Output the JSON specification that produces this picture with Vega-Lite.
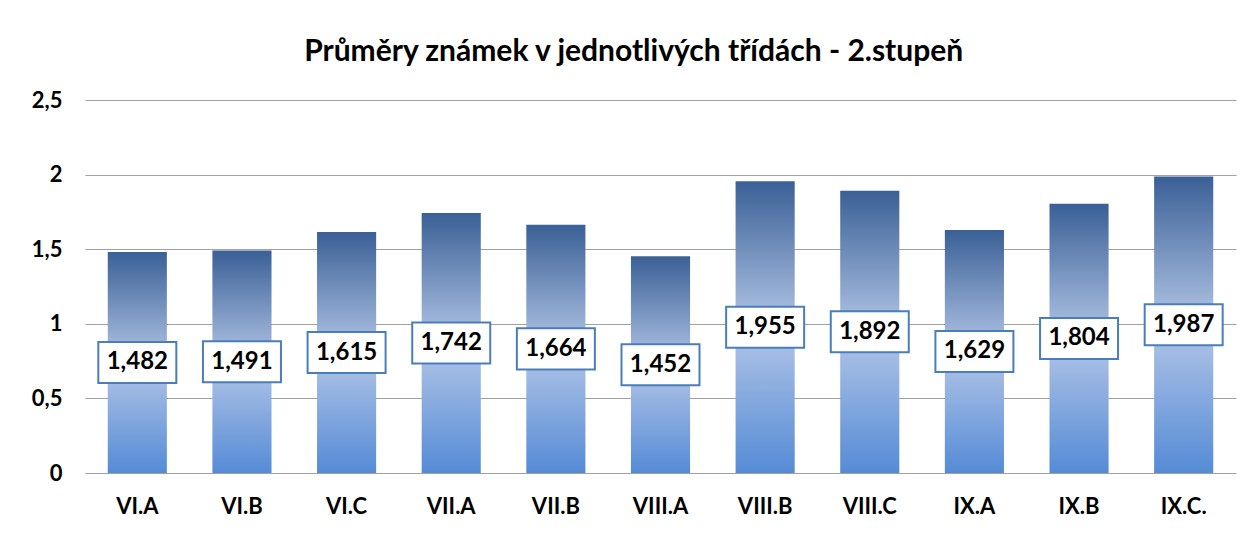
{
  "$schema": "https://vega.github.io/schema/vega-lite/v6.json",
  "width": 1151,
  "height": 373,
  "autosize": "none",
  "padding": {"left": 85, "top": 100, "right": 18, "bottom": 60},
  "background": "white",
  "config": {
    "locale": {"number": {"decimal": ",", "thousands": " ", "grouping": [3], "currency": ["", " Kč"]}},
    "view": {"stroke": null},
    "font": "Lato"
  },
  "title": {
    "text": "Průměry známek v jednotlivých třídách - 2.stupeň",
    "font": "Lato",
    "fontSize": 30,
    "fontWeight": "bold",
    "color": "black",
    "anchor": "middle",
    "frame": "bounds",
    "offset": 22
  },
  "data": {
    "values": [
      {"cls": "VI.A", "v": 1.482},
      {"cls": "VI.B", "v": 1.491},
      {"cls": "VI.C", "v": 1.615},
      {"cls": "VII.A", "v": 1.742},
      {"cls": "VII.B", "v": 1.664},
      {"cls": "VIII.A", "v": 1.452},
      {"cls": "VIII.B", "v": 1.955},
      {"cls": "VIII.C", "v": 1.892},
      {"cls": "IX.A", "v": 1.629},
      {"cls": "IX.B", "v": 1.804},
      {"cls": "IX.C.", "v": 1.987}
    ]
  },
  "encoding": {
    "x": {
      "field": "cls",
      "type": "nominal",
      "sort": null,
      "scale": {"paddingInner": 0.435, "paddingOuter": 0.2175},
      "axis": {
        "title": null,
        "labelAngle": 0,
        "labelFont": "Lato",
        "labelFontSize": 22,
        "labelFontWeight": "bold",
        "labelColor": "black",
        "labelPadding": 23,
        "ticks": false,
        "domain": false,
        "grid": false
      }
    }
  },
  "layer": [
    {
      "mark": {
        "type": "bar",
        "color": {
          "gradient": "linear",
          "x1": 0, "y1": 0, "x2": 0, "y2": 1,
          "stops": [
            {"offset": 0, "color": "#3A6096"},
            {"offset": 0.5, "color": "#B3C6E7"},
            {"offset": 1, "color": "#558BD6"}
          ]
        }
      },
      "encoding": {
        "y": {
          "field": "v",
          "type": "quantitative",
          "scale": {"domain": [0, 2.5], "nice": false},
          "axis": {
            "title": null,
            "values": [0, 0.5, 1, 1.5, 2, 2.5],
            "format": ".1~f",
            "labelFont": "Lato",
            "labelFontSize": 22,
            "labelFontWeight": "bold",
            "labelColor": "black",
            "labelPadding": 23,
            "ticks": false,
            "domain": false,
            "grid": true,
            "gridColor": "#A0A0A0",
            "gridWidth": 1
          }
        }
      }
    },
    {
      "mark": {
        "type": "point",
        "shape": "M-1,-0.526L1,-0.526L1,0.526L-1,0.526Z",
        "size": 6084,
        "filled": true,
        "fill": "white",
        "stroke": "#4A7EBB",
        "strokeWidth": 2,
        "opacity": 1,
        "fillOpacity": 1,
        "strokeOpacity": 1
      },
      "encoding": {
        "y": {"field": "v", "type": "quantitative", "scale": {"domain": [0, 5], "nice": false}, "axis": null}
      }
    },
    {
      "mark": {
        "type": "text",
        "font": "Lato",
        "fontSize": 24,
        "fontWeight": "bold",
        "color": "black",
        "baseline": "middle"
      },
      "encoding": {
        "y": {"field": "v", "type": "quantitative", "scale": {"domain": [0, 5], "nice": false}, "axis": null},
        "text": {"field": "v", "type": "quantitative", "format": ".3f"}
      }
    }
  ],
  "resolve": {"scale": {"y": "independent"}}
}
